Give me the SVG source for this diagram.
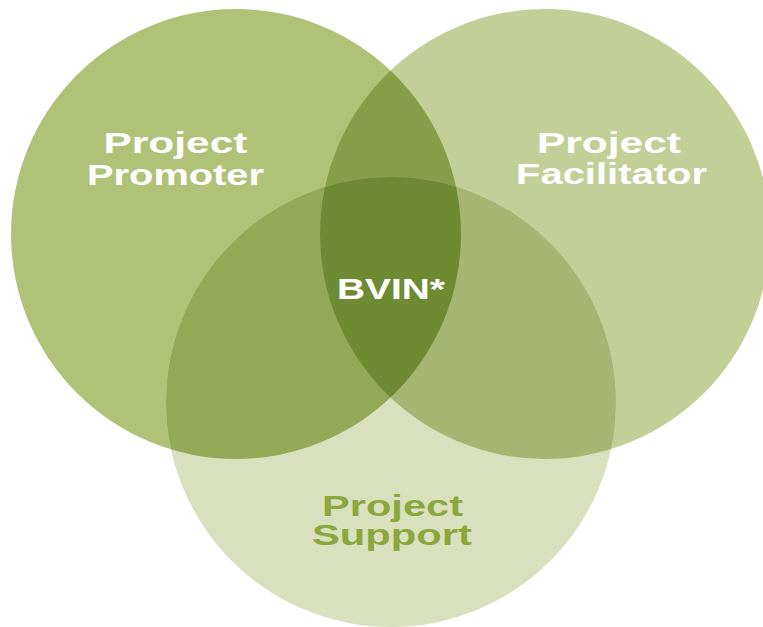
<svg xmlns="http://www.w3.org/2000/svg" width="763" height="627" viewBox="0 0 763 627">
  <defs>
    <clipPath id="clipL"><circle cx="236" cy="234" r="225"/></clipPath>
    <clipPath id="clipR"><circle cx="545" cy="234" r="225"/></clipPath>
    <clipPath id="clipB"><circle cx="391" cy="402" r="225"/></clipPath>
  </defs>
  <style>
    .lbl { font-family: "Liberation Sans", Arial, sans-serif; font-weight: bold; font-size: 30px; }
    .w { fill: #ffffff; }
    .g { fill: #8ba73c; }
  </style>
  <rect width="763" height="627" fill="#ffffff"/>
  <g id="promoter">
    <circle cx="236" cy="234" r="225" fill="#b0c277"/>
  </g>
  <g id="facilitator">
    <circle cx="545" cy="234" r="225" fill="#c2cf96"/>
  </g>
  <g id="support">
    <circle cx="391" cy="402" r="225" fill="#d9e0be"/>
  </g>
  <g id="overlaps">
    <g clip-path="url(#clipL)">
      <circle cx="545" cy="234" r="225" fill="#879d48"/>
      <circle cx="391" cy="402" r="225" fill="#94a958"/>
    </g>
    <g clip-path="url(#clipR)">
      <circle cx="391" cy="402" r="225" fill="#a6b672"/>
    </g>
    <g clip-path="url(#clipL)">
      <g clip-path="url(#clipR)">
        <circle cx="391" cy="402" r="225" fill="#6f8a33"/>
      </g>
    </g>
  </g>
  <g id="connectors"></g>
  <g id="labels">
    <text class="lbl w" x="103.5" y="152.5" textLength="144" lengthAdjust="spacingAndGlyphs">Project</text>
    <text class="lbl w" x="87" y="185" textLength="177" lengthAdjust="spacingAndGlyphs">Promoter</text>
    <text class="lbl w" x="537" y="153" textLength="144" lengthAdjust="spacingAndGlyphs">Project</text>
    <text class="lbl w" x="516" y="184" textLength="191" lengthAdjust="spacingAndGlyphs">Facilitator</text>
    <text class="lbl w" x="337" y="299" textLength="108" lengthAdjust="spacingAndGlyphs">BVIN*</text>
    <text class="lbl g" x="322" y="515.5" textLength="141" lengthAdjust="spacingAndGlyphs">Project</text>
    <text class="lbl g" x="312" y="545" textLength="160" lengthAdjust="spacingAndGlyphs">Support</text>
  </g>
</svg>
